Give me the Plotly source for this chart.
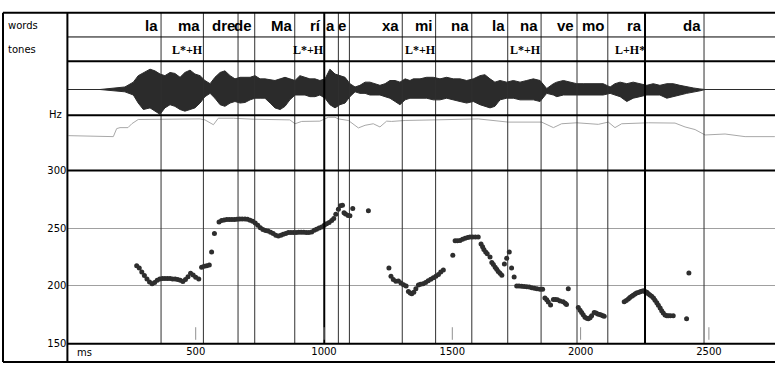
import plotly.graph_objects as go

W, H = 775, 370

# ---------------- data ----------------
# pitch track (ms, Hz)
pitch_ms = [270, 280, 290, 300, 310, 320, 330, 340, 350, 360, 370, 380, 390, 400, 410, 420, 430, 440, 450, 460,
            470, 480, 490, 500, 512, 523, 533, 543, 553, 562, 573, 591, 601, 611, 621, 631, 641, 651, 661, 671,
            681, 692, 702, 712, 722, 732, 742, 752, 762, 772, 782, 792, 802, 812, 822, 832, 841, 851, 861, 871,
            881, 891, 901, 911, 921, 931, 941, 952, 962, 971, 981, 991, 1001, 1010, 1020, 1030, 1038, 1046, 1056, 1064,
            1072, 1078, 1084, 1094, 1101, 1112, 1173,
            1253, 1261, 1270, 1280, 1290, 1300, 1310, 1320, 1329, 1336, 1342, 1350, 1358, 1368, 1376, 1386, 1396, 1406, 1416, 1426,
            1436, 1446, 1455, 1465, 1502, 1511, 1520, 1530, 1540, 1550, 1560, 1569, 1579, 1590, 1601, 1612, 1618, 1623, 1630, 1636,
            1647, 1654, 1660, 1667, 1673, 1679, 1686, 1693, 1703, 1712, 1722, 1731, 1741, 1751, 1760, 1770, 1780, 1790, 1800, 1810,
            1820, 1830, 1842, 1852, 1861, 1868, 1874, 1883, 1894, 1902, 1910, 1920, 1932, 1940, 1945, 1952, 1991, 1998, 2004, 2010,
            2017, 2024, 2030, 2037, 2043, 2053, 2060, 2067, 2074, 2080, 2087, 2092,
            2170, 2178, 2186, 2192, 2199, 2205, 2212, 2218, 2225, 2232, 2238, 2245, 2251, 2258, 2264, 2270, 2277, 2284, 2290, 2297,
            2303, 2310, 2316, 2322, 2329, 2336, 2342, 2350, 2361, 2413, 2422]
pitch_hz = [217.6, 215.5, 212, 209, 206, 203.5, 202, 203, 205, 206, 206.5, 206.5, 206.5, 206.5, 206, 206, 205.5, 205, 203.8, 205.5,
            208, 211, 209.5, 207.5, 206, 216.2, 217, 217.5, 218.1, 229.3, 245.5, 255.3, 256.7, 257.2, 257.5, 257.5, 257.5, 257.5, 257.7, 258,
            258, 258, 257.8, 257, 256, 254.5, 252.5, 250.5, 249, 248, 247.5, 246.5, 245.5, 244, 243.3, 244, 244.7, 245.5, 246.2, 246.4,
            246.4, 246.4, 246.5, 246.5, 246.5, 246.4, 246.4, 246.8, 248.2, 249.1, 250.2, 251.1, 252.5, 253.9, 255, 256.7, 258.5, 262, 266.5, 269.5,
            269.8, 263.5, 262.3, 261, 260.9, 267.1, 265.1,
            215.6, 208.4, 205.5, 204, 204.2, 202.5, 201, 200, 195.3, 194, 193.3, 194.5, 197.5, 200.9, 201.4, 201.8, 203, 204.5, 205.8, 207,
            208.5, 210, 212, 213.9, 226.5, 239.1, 239.2, 239.4, 240.5, 241.3, 242, 242.4, 242.4, 242.4, 242.4, 236.3, 234, 231.5, 229.5, 227.9,
            225.1, 220.4, 218.5, 216.2, 214.5, 212.6, 211, 209.2, 219, 224, 229.3, 215.6, 207.8, 200, 200, 199.8, 199.6, 199.4, 199, 198.5,
            198, 197.5, 197.2, 197.2, 189.6, 188, 186, 183.5, 188.3, 188.3, 188, 186.9, 186.3, 185, 184, 197.5, 181.3, 179, 177, 175,
            172.9, 172, 171.5, 172.5, 174.3, 177, 176.5, 175.7, 175.2, 174.9, 174.3, 173.7,
            186.3, 187.5, 188.8, 190, 191, 192, 193, 193.8, 194.4, 195, 195.5, 195.8, 195.3, 194.5, 193.3, 192.2, 191, 189.5, 187.7, 185.5,
            183.2, 180.8, 178.5, 176.5, 174.9, 174.3, 174.3, 174.3, 174.3, 171.5, 211.2]

# waveform envelope (ms, upper / lower amplitude, arbitrary units)
wave_ms = [0, 127, 224, 257, 276, 296, 322, 341, 361, 380, 400, 419, 439, 458, 478, 497, 517, 536, 556, 575,
           595, 614, 634, 653, 673, 692, 712, 731, 751, 770, 790, 809, 829, 848, 867, 887, 906, 926, 945, 965,
           984, 1004, 1023, 1043, 1062, 1082, 1101, 1121, 1140, 1160, 1179, 1199, 1218, 1238, 1257, 1277, 1296, 1316, 1335, 1348,
           1374, 1400, 1426, 1452, 1478, 1504, 1530, 1556, 1582, 1608, 1627, 1647, 1666, 1686, 1712, 1738, 1764, 1790, 1816, 1842,
           1868, 1894, 1907, 1933, 1959, 1985, 2010, 2036, 2063, 2088, 2115, 2134, 2154, 2180, 2205, 2231, 2258, 2283, 2309, 2336,
           2361, 2387, 2413, 2439, 2465, 2485, 2757]
wave_up = [0, 0, 2.6, 7.6, 14.3, 17.6, 21, 19.3, 16, 14.3, 17.6, 16.6, 12.6, 17.6, 20, 16, 14.3, 9.3, 6, 12.6,
           17.6, 19.3, 14.3, 11, 12.6, 12.6, 12.6, 14.3, 11, 11, 10, 9.3, 11, 12.6, 11, 9.3, 14.3, 12.6, 11, 11,
           9.3, 11, 21, 16, 14.3, 12.6, 6, 2.6, 4.3, 7.6, 7.6, 6, 4.3, 6, 9.3, 9.3, 7.6, 11, 9.3, 11,
           11, 12.6, 12.6, 11, 12.6, 11, 11, 9.3, 11, 14.3, 15.3, 11, 7.6, 9.3, 7.6, 9.3, 7.6, 9.3, 11, 9.3,
           1, 6, 7.6, 9.3, 7.6, 6, 6, 6, 6, 6, 2.6, 6, 7.6, 6, 7.6, 6, 4.3, 6, 4.3, 6,
           6, 4.3, 2.6, 1.6, 0.6, 0, 0]
wave_lo = [0, 0, -2.4, -5.7, -14, -20.7, -19, -22.4, -25.7, -19, -15.7, -17.4, -20.7, -22.4, -20.7, -19, -14, -7.4, -4, -9,
           -15.7, -17.4, -14, -12.4, -14, -13.4, -10.7, -9, -9, -9, -14, -19, -20.7, -17.4, -10.7, -5.7, -5.7, -5.7, -7.4, -7.4,
           -5.7, -9, -15.7, -19, -15.7, -14, -7.4, -2.4, -4, -4, -5.7, -5.7, -5.7, -7.4, -9, -12.4, -15.7, -10.7, -9, -9,
           -9, -9, -10.7, -10.7, -9, -10.7, -12.4, -14, -12.4, -15.7, -17.4, -19, -17.4, -10.7, -9, -9, -10.7, -10.7, -10.7, -12.4,
           -4, -5.7, -7.4, -5.7, -5.7, -5.7, -5.7, -5.7, -5.7, -5.7, -4, -5.7, -7.4, -12.4, -9, -7.4, -5.7, -5.7, -5.7, -9,
           -7.4, -5.7, -4, -2.4, -1.4, 0, 0]

# gray contour in the "Hz" band (ms, relative units)
contour_ms = [4, 179, 192, 205, 236, 251, 276, 517, 536, 569, 588, 647, 724, 867, 887, 913, 984, 1017, 1043, 1056,
              1095, 1114, 1134, 1160, 1192, 1218, 1244, 1264, 1316, 1433, 1601, 1718, 1848, 1894, 1926, 1985, 2069, 2108, 2134, 2160,
              2264, 2368, 2407, 2446, 2485, 2563, 2641, 2757]
contour_val = [36, 35, 43.3, 44.3, 44.3, 48.3, 52.7, 53.3, 52.3, 47.3, 54, 54, 53, 52.3, 48.3, 50.7, 51, 55, 55, 53.3,
               51.7, 48.3, 44, 46.7, 48.3, 45, 51, 50.7, 51.7, 52.3, 53.3, 50, 50, 44.3, 48.3, 49.3, 47.7, 50, 44.3, 48.3,
               49.3, 49, 45, 42.3, 36.7, 37.7, 35, 35]

# annotation tiers
word_labels = ["la", "ma", "dre", "de", "Ma", "rí", "a", "e", "xa", "mi", "na", "la", "na", "ve", "mo", "ra", "da"]
word_ends = [365, 530, 665, 730, 886, 1001, 1056, 1099, 1305, 1435, 1576, 1716, 1846, 1986, 2106, 2251, 2481]
tone_labels = ["L*+H", "L*+H", "L*+H", "L*+H", "L+H*"]
tone_ends = [530, 1001, 1435, 1846, 2251]
thick_bounds = [1001, 2251]

x_ticks = [500, 1000, 1500, 2000, 2500]
x_tick_text = ["500", "1000", "1500", "2000", "2500"]
y_ticks = [150, 200, 250, 300]
y_tick_text = ["150", "200", "250", "300"]

# ---------------- layout helpers ----------------
def py(p):
    return 1 - p / H

def px(p):
    return p / W

X0 = 67.4
XMAX = 2757.6
SANS = "DejaVu Sans"

fig = go.Figure()

# waveform
fig.add_trace(go.Scatter(
    x=wave_ms + wave_ms[::-1], y=wave_up + wave_lo[::-1],
    fill="toself", fillcolor="#2b2b2b", mode="lines",
    line=dict(color="#2b2b2b", width=1), yaxis="y3", hoverinfo="skip", showlegend=False))

# contour
fig.add_trace(go.Scatter(
    x=contour_ms, y=contour_val, mode="lines", line=dict(color="#a8a8a8", width=1, shape="linear"),
    yaxis="y2", showlegend=False))

# pitch
fig.add_trace(go.Scatter(
    x=pitch_ms, y=pitch_hz, mode="markers",
    marker=dict(size=5, color="#2e2e2e", line=dict(width=0)),
    yaxis="y", showlegend=False))

shapes = []
# word / tone boundaries
for b in word_ends:
    w = 2 if b in thick_bounds else 1
    c = "#000000" if b in thick_bounds else "#303030"
    shapes.append(dict(type="line", xref="x", yref="paper", x0=b, x1=b, y0=py(349), y1=py(7),
                       line=dict(color=c, width=w)))
# small tick marks
for t in x_ticks:
    shapes.append(dict(type="line", xref="x", yref="paper", x0=t, x1=t, y0=py(345), y1=py(332),
                       line=dict(color="#909090", width=1)))
# horizontal frame lines
for yy, wd, xs in [(7, 2, 3), (32, 1, X0), (57, 2, X0), (113, 2, X0), (170, 2, X0), (349, 2, X0), (368, 2, 3)]:
    shapes.append(dict(type="line", xref="paper", yref="paper", x0=px(xs), x1=1, y0=py(yy), y1=py(yy),
                       line=dict(color="#000000", width=wd)))
# vertical frame lines
for xx, wd in [(3, 2), (X0, 2)]:
    shapes.append(dict(type="line", xref="paper", yref="paper", x0=px(xx), x1=px(xx), y0=py(368), y1=py(7),
                       line=dict(color="#000000", width=wd)))

annotations = []
for lab, e in zip(word_labels, word_ends):
    annotations.append(dict(x=e, y=py(20), xref="x", yref="paper", text="<b>%s</b>" % lab, showarrow=False,
                            xanchor="right", yanchor="middle", xshift=-1,
                            font=dict(family="Liberation Sans", size=15, color="#000")))
for lab, e in zip(tone_labels, tone_ends):
    annotations.append(dict(x=e, y=py(45), xref="x", yref="paper", text="<b>%s</b>" % lab, showarrow=False,
                            xanchor="right", yanchor="middle", xshift=2,
                            font=dict(family="Liberation Serif", size=12, color="#000")))
for txt, xx, yy, anc in [("words", 6, 20, "left"), ("tones", 6, 45, "left"), ("Hz", 64, 112, "right"),
                         ("ms", 75, 358, "left")]:
    annotations.append(dict(x=px(xx), y=py(yy), xref="paper", yref="paper", text=txt, showarrow=False,
                            xanchor=anc, yanchor="middle", font=dict(family=SANS, size=10, color="#000")))

fig.update_layout(
    width=W, height=H, margin=dict(l=0, r=0, t=0, b=0),
    paper_bgcolor="white", plot_bgcolor="white",
    showlegend=False,
    xaxis=dict(domain=[px(X0), 1], range=[0, XMAX], anchor="y", showgrid=False, zeroline=False, showline=False,
               tickvals=x_ticks, ticktext=x_tick_text, ticks="", tickfont=dict(family=SANS, size=10, color="#000")),
    yaxis=dict(domain=[py(349), py(170)], range=[150, 300], anchor="x", showgrid=True, gridcolor="#a0a0a0",
               gridwidth=1, zeroline=False, showline=False, tickvals=y_ticks, ticktext=y_tick_text, ticks="",
               tickfont=dict(family=SANS, size=10, color="#000")),
    yaxis2=dict(domain=[py(170), py(113)], range=[0, 57], anchor="x", showgrid=False, zeroline=False,
                showline=False, showticklabels=False),
    yaxis3=dict(domain=[py(113), py(57)], range=[-26.7, 29.3], anchor="x", showgrid=False, zeroline=False,
                showline=False, showticklabels=False),
    shapes=shapes, annotations=annotations,
)

fig.write_html("out.html", config={"displayModeBar": False},
               post_script="document.body.style.margin='0';document.body.style.overflow='hidden';")
